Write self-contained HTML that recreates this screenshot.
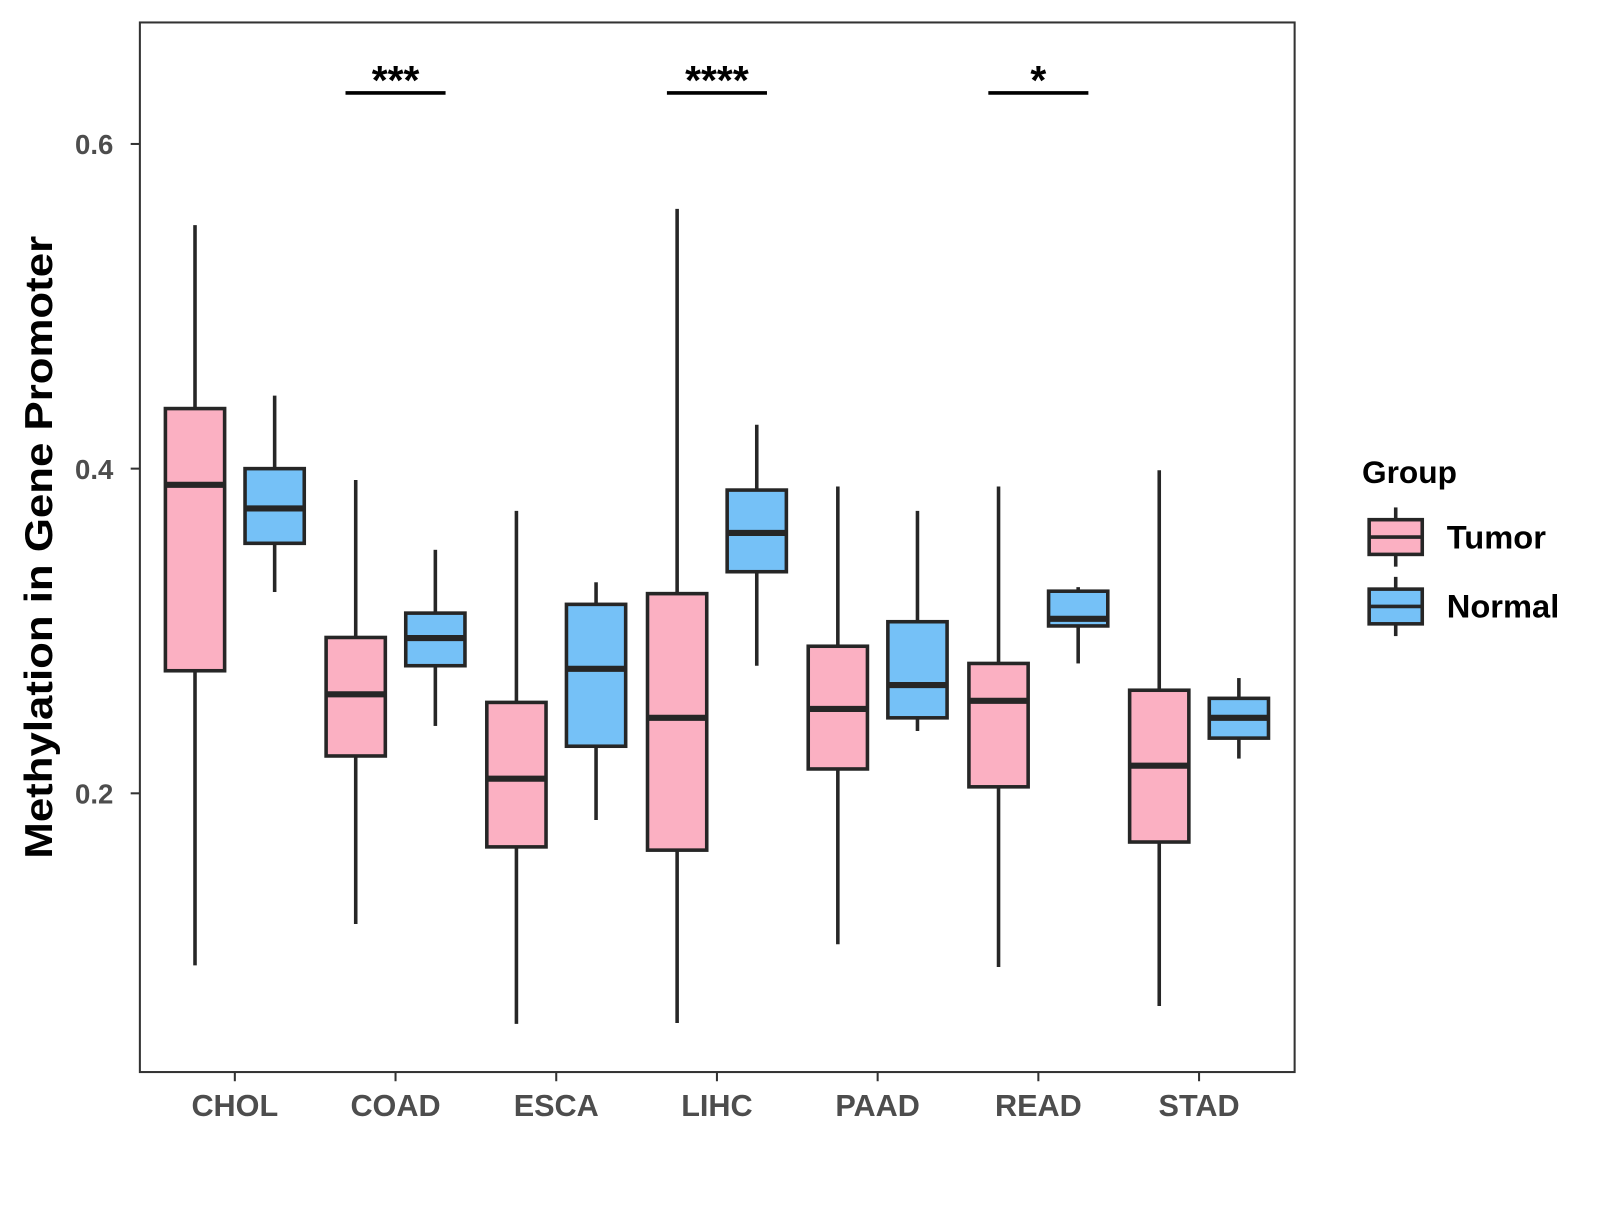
<!DOCTYPE html>
<html><head><meta charset="utf-8"><style>
html,body{margin:0;padding:0;background:#fff;}
svg text{font-family:"Liberation Sans",Arial,sans-serif;font-weight:bold;}
</style></head><body>
<svg id="chart" width="1600" height="1200" xmlns="http://www.w3.org/2000/svg">
<rect x="0" y="0" width="1600" height="1200" fill="#fff"/>
<g id="plot" transform="scale(1.021)"></g>
</svg>
<script>
const categories = ["CHOL","COAD","ESCA","LIHC","PAAD","READ","STAD"];
// [whiskerHigh, q3, median, q1, whiskerLow]
const tumorStats = [
 [0.550,0.437,0.390,0.2755,0.094],
 [0.393,0.296,0.261,0.223,0.1195],
 [0.374,0.256,0.209,0.167,0.058],
 [0.560,0.323,0.2465,0.165,0.0585],
 [0.389,0.2906,0.252,0.215,0.107],
 [0.389,0.280,0.257,0.204,0.093],
 [0.399,0.2635,0.217,0.170,0.069]
];
const normalStats = [
 [0.445,0.400,0.3755,0.354,0.324],
 [0.350,0.311,0.2956,0.2786,0.2415],
 [0.330,0.3164,0.2767,0.229,0.1836],
 [0.427,0.3868,0.3604,0.3365,0.2786],
 [0.374,0.3057,0.2667,0.2465,0.2384],
 [0.327,0.3245,0.3075,0.3031,0.280],
 [0.271,0.2585,0.2465,0.234,0.2214]
];
const yTicks = [0.2,0.4,0.6];
const sigCategories = ["COAD","LIHC","READ"];
const sigLabels = ["***","****","*"];

const NS="http://www.w3.org/2000/svg";
const g=document.getElementById('plot');
const PL=137,PR=1268,PT=22,PB=1050;
function yScale(v){return 141+(0.6-v)*1590;}
function xScale(i){return 230+i*157.4;}
function el(tag,attrs,parent){const e=document.createElementNS(NS,tag);for(const k in attrs)e.setAttribute(k,attrs[k]);(parent||g).appendChild(e);return e;}

yTicks.forEach(t=>{
 const y=yScale(t);
 const tk=el('line',{x1:PL-9,x2:PL,y1:y,y2:y,stroke:'#333','stroke-width':2});
 
 
 const lb=el('text',{x:PL-26,y:y+10,'text-anchor':'end','font-size':27,fill:'#4d4d4d'});
 lb.textContent=t.toFixed(1);
 
 
});
categories.forEach((c,i)=>{
 const x=xScale(i);
 const tk=el('line',{x1:x,x2:x,y1:PB,y2:PB+9,stroke:'#333','stroke-width':2});
 
 
 const lb=el('text',{x:x,y:1093,'text-anchor':'middle','font-size':30,fill:'#4d4d4d'});
 lb.textContent=c;
 
 
});

function drawBox(s,cx,fill,name){
 const w=58;
 const grp=el('g',{});
 
 
 el('line',{x1:cx,x2:cx,y1:yScale(s[0]),y2:yScale(s[1]),stroke:'#262626','stroke-width':3.5},grp);
 el('line',{x1:cx,x2:cx,y1:yScale(s[3]),y2:yScale(s[4]),stroke:'#262626','stroke-width':3.5},grp);
 el('rect',{x:cx-w/2,y:yScale(s[1]),width:w,height:yScale(s[3])-yScale(s[1]),fill:fill,stroke:'#262626','stroke-width':3.5},grp);
 el('line',{x1:cx-w/2,x2:cx+w/2,y1:yScale(s[2]),y2:yScale(s[2]),stroke:'#262626','stroke-width':6},grp);
}
categories.forEach((c,i)=>{
 drawBox(tumorStats[i],xScale(i)-39,'#FBB0C2','box-tumor-'+c.toLowerCase());
 drawBox(normalStats[i],xScale(i)+39,'#75C1F7','box-normal-'+c.toLowerCase());
});
sigCategories.forEach((c,k)=>{
 const x=xScale(categories.indexOf(c));
 const ln=el('line',{x1:x-49,x2:x+49,y1:91,y2:91,stroke:'#000','stroke-width':3.5});
 
 
 const t=el('text',{x:x,y:92,'text-anchor':'middle','font-size':40,fill:'#000'});
 t.textContent=sigLabels[k];
 
 
});
const border=el('rect',{x:PL,y:PT,width:PR-PL,height:PB-PT,fill:'none',stroke:'#333','stroke-width':2});


const yt=el('text',{x:0,y:0,'text-anchor':'middle','font-size':38,fill:'#000',textLength:610,lengthAdjust:'spacingAndGlyphs',transform:'translate(51,536) rotate(-90)'});
yt.textContent='Methylation in Gene Promoter';


const lt=el('text',{x:1334,y:473,'font-size':31,fill:'#000'});
lt.textContent='Group';


[['Tumor','#FBB0C2',526],['Normal','#75C1F7',594]].forEach(([n,f,cy])=>{
 const lg=el('g',{});
 
 
 el('line',{x1:1367,x2:1367,y1:cy-29,y2:cy+29,stroke:'#262626','stroke-width':3.5},lg);
 el('rect',{x:1341,y:cy-17,width:52,height:34,fill:f,stroke:'#262626','stroke-width':3.5},lg);
 el('line',{x1:1341,x2:1393,y1:cy,y2:cy,stroke:'#262626','stroke-width':3.5},lg);
 const t=el('text',{x:1417,y:cy+11,'font-size':32,fill:'#000'},lg);
 t.textContent=n;
});
</script>
</body></html>
